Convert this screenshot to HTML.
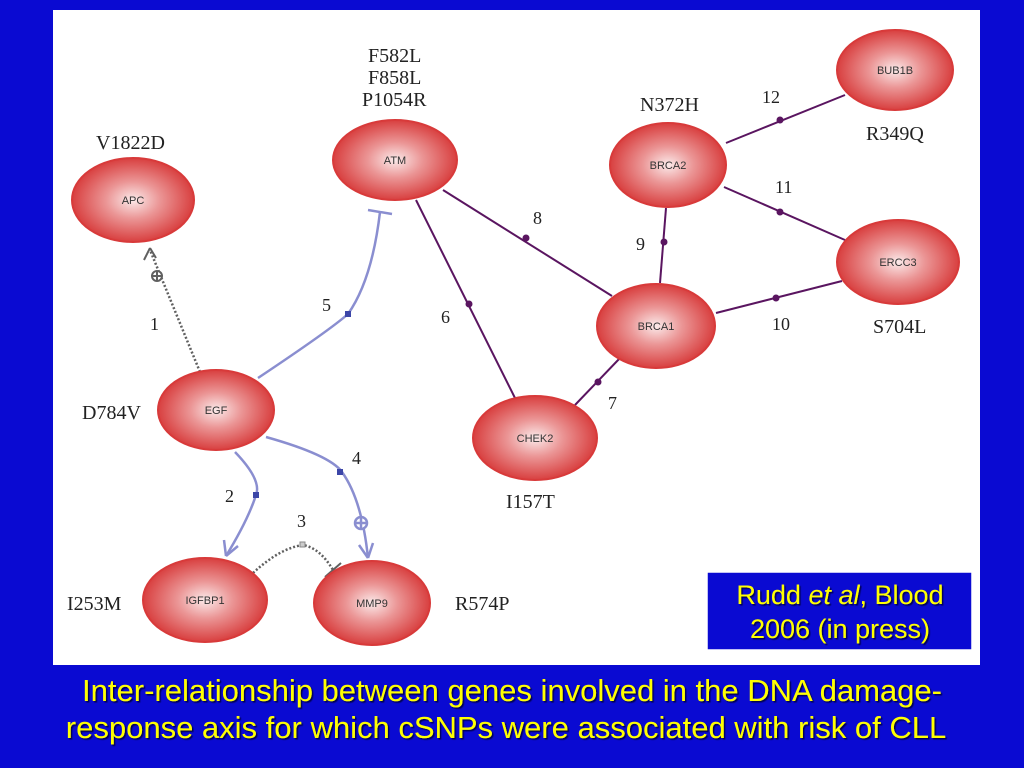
<!DOCTYPE html>
<html><head><meta charset="utf-8"><style>
html,body{margin:0;padding:0;width:1024px;height:768px;overflow:hidden;background:#0a0ad2;}
svg{position:absolute;left:0;top:0}
</style></head><body>
<svg width="1024" height="768" viewBox="0 0 1024 768">
<defs>
<radialGradient id="g" cx="50%" cy="50%" r="55%">
<stop offset="0" stop-color="#fbeaea"/><stop offset="0.4" stop-color="#eb9696"/><stop offset="1" stop-color="#d53030"/>
</radialGradient>
<filter id="sh"><feDropShadow dx="1.5" dy="1.5" stdDeviation="0.5" flood-color="#000040" flood-opacity="0.9"/></filter>
</defs>
<rect x="0" y="0" width="1024" height="768" fill="#0a0ad2"/>
<rect x="53" y="10" width="927" height="655" fill="#fff"/>
<g stroke="#5a1560" stroke-width="2" fill="none">
<line x1="443" y1="190" x2="612" y2="296"/>
<line x1="416" y1="200" x2="515" y2="398"/>
<line x1="575" y1="405" x2="620" y2="358"/>
<line x1="666" y1="208" x2="660" y2="283"/>
<line x1="716" y1="313" x2="842" y2="281"/>
<line x1="724" y1="187" x2="845" y2="240"/>
<line x1="726" y1="143" x2="845" y2="95"/>
</g>
<g fill="#5a1560">
<circle cx="526" cy="238" r="3.5"/><circle cx="469" cy="304" r="3.5"/><circle cx="598" cy="382" r="3.5"/>
<circle cx="664" cy="242" r="3.5"/><circle cx="776" cy="298" r="3.5"/><circle cx="780" cy="212" r="3.5"/><circle cx="780" cy="120" r="3.5"/>
</g>
<g stroke="#8a8ed0" stroke-width="2.5" fill="none">
<path d="M258 378 Q330 330 348 314 Q372 280 380 212"/>
<line x1="368" y1="210" x2="392" y2="214"/>
<path d="M235 452 Q262 480 256 495 Q248 520 226 556"/>
<path d="M226 556 l-2 -16 M226 556 l12 -10"/>
<path d="M266 437 Q330 455 342 472 Q362 500 368 558"/>
<path d="M368 558 l-9 -13 M368 558 l5 -15"/>
<circle cx="361" cy="523" r="6" fill="#fff"/><path d="M355 523h12M361 517v12"/>
</g>
<g fill="#3c46a8"><rect x="345" y="311" width="6" height="6"/><rect x="253" y="492" width="6" height="6"/><rect x="337" y="469" width="6" height="6"/></g>
<g stroke="#606060" stroke-width="2.5" fill="none" stroke-dasharray="2 2">
<path d="M200 372 L150 250"/>
<path d="M253 573 Q280 548 303 545 Q320 548 333 570"/>
</g>
<g stroke="#606060" stroke-width="2" fill="none">
<path d="M150 248 l-6 12 M150 248 l6 10"/>
<circle cx="157" cy="276" r="5" fill="#fff"/><path d="M152 276h10M157 271v10"/>
<line x1="325" y1="577" x2="341" y2="563"/>
</g>
<rect x="300" y="542" width="5" height="5" fill="#ccc" stroke="#888"/>
<g fill="url(#g)" stroke="#d83a3a" stroke-width="2">
<ellipse cx="133" cy="200" rx="61" ry="42"/>
<ellipse cx="395" cy="160" rx="62" ry="40"/>
<ellipse cx="668" cy="165" rx="58" ry="42"/>
<ellipse cx="895" cy="70" rx="58" ry="40"/>
<ellipse cx="898" cy="262" rx="61" ry="42"/>
<ellipse cx="656" cy="326" rx="59" ry="42"/>
<ellipse cx="535" cy="438" rx="62" ry="42"/>
<ellipse cx="216" cy="410" rx="58" ry="40"/>
<ellipse cx="205" cy="600" rx="62" ry="42"/>
<ellipse cx="372" cy="603" rx="58" ry="42"/>
</g>
<g font-family="Liberation Sans, sans-serif" font-size="11" fill="#333" text-anchor="middle">
<text x="133" y="204">APC</text><text x="395" y="164">ATM</text><text x="668" y="169">BRCA2</text>
<text x="895" y="74">BUB1B</text><text x="898" y="266">ERCC3</text><text x="656" y="330">BRCA1</text>
<text x="535" y="442">CHEK2</text><text x="216" y="414">EGF</text><text x="205" y="604">IGFBP1</text><text x="372" y="607">MMP9</text>
</g>
<g font-family="Liberation Serif, serif" font-size="20" fill="#222">
<text x="96" y="149">V1822D</text>
<text x="368" y="62">F582L</text><text x="368" y="84">F858L</text><text x="362" y="106">P1054R</text>
<text x="640" y="111">N372H</text><text x="866" y="140">R349Q</text><text x="873" y="333">S704L</text>
<text x="82" y="419">D784V</text><text x="506" y="508">I157T</text>
<text x="67" y="610">I253M</text><text x="455" y="610">R574P</text>
</g>
<g font-family="Liberation Serif, serif" font-size="18" fill="#222">
<text x="150" y="330">1</text><text x="225" y="502">2</text><text x="297" y="527">3</text><text x="352" y="464">4</text>
<text x="322" y="311">5</text><text x="441" y="323">6</text><text x="608" y="409">7</text><text x="533" y="224">8</text>
<text x="636" y="250">9</text><text x="772" y="330">10</text><text x="775" y="193">11</text><text x="762" y="103">12</text>
</g>
<rect x="707" y="572" width="265" height="78" fill="#0a0ad2" stroke="#fff" stroke-width="1.5"/>
<g font-family="Liberation Sans, sans-serif" fill="#ffff00" text-anchor="middle" filter="url(#sh)">
<text x="840" y="604" font-size="27">Rudd <tspan font-style="italic">et al</tspan>, Blood</text>
<text x="840" y="638" font-size="27">2006 (in press)</text>
<text x="512" y="701" font-size="31">Inter-relationship between genes involved in the DNA damage-</text>
<text x="506" y="738" font-size="31">response axis for which cSNPs were associated with risk of CLL</text>
</g>
</svg>
</body></html>
